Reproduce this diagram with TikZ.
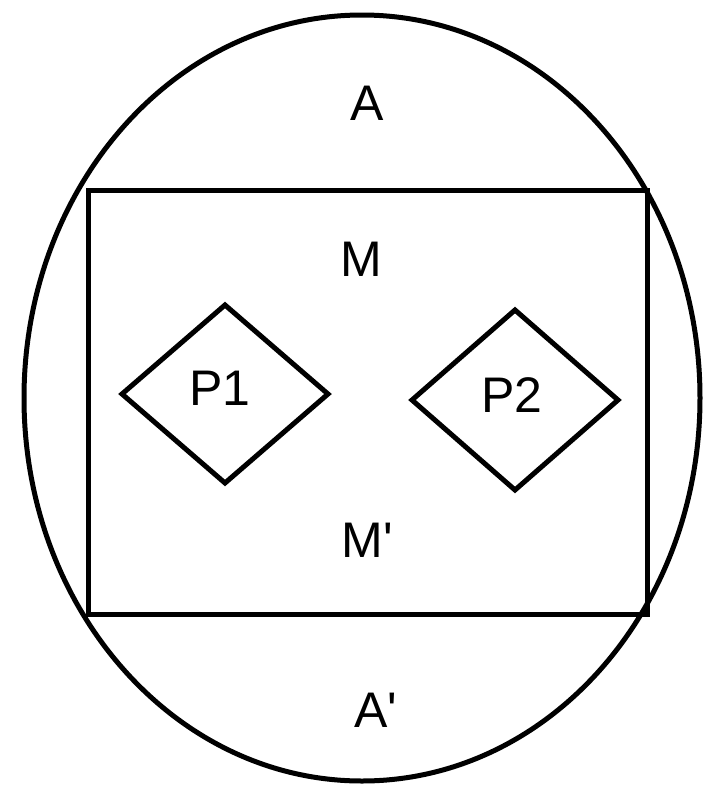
\documentclass[tikz,border=0pt]{standalone}
\usepackage{fontspec}
\newfontfamily\labelfont{Liberation Sans}
\begin{document}
\begin{tikzpicture}[x=1pt,y=-1pt,
  shape line/.style={draw=black,line width=5pt,line join=miter},
  label text/.style={inner sep=0pt,font=\labelfont\fontsize{50}{60}\selectfont}]
\useasboundingbox (0,0) rectangle (704,790);
\draw[shape line] (362,398) ellipse [x radius=338, y radius=383];
\draw[shape line] (88,190) rectangle (647,614);
\draw[shape line] (122,394) -- (225,305) -- (328,394) -- (225,483) -- cycle;
\draw[shape line] (412,400) -- (515,310) -- (618,400) -- (515,490) -- cycle;
\node[label text] (a) at (367,103) {A};
\node[label text] (m) at (361,259) {M};
\node[label text] (p1) at (220,388) {P1};
\node[label text] (p2) at (512,395) {P2};
\node[label text] (mp) at (367,540) {M'};
\node[label text] (ap) at (376,710) {A'};
\end{tikzpicture}
\end{document}
